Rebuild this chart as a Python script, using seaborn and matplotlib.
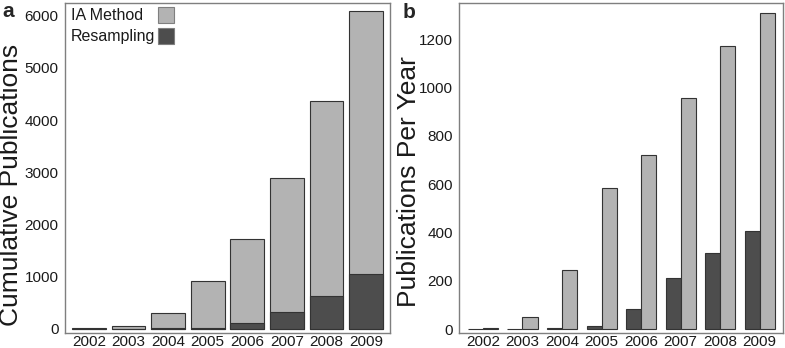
import pandas as pd
import matplotlib
matplotlib.use("Agg")
import matplotlib.pyplot as plt
import seaborn as sns
from matplotlib.patches import Rectangle

years = ["2002", "2003", "2004", "2005", "2006", "2007", "2008", "2009"]

# panel a: cumulative publications (stacked: total height and resampling part)
cum_total = [10, 60, 310, 910, 1715, 2885, 4365, 6080]
cum_resampling = [3, 5, 10, 25, 110, 320, 635, 1045]

# panel b: publications per year
year_ia = [5, 50, 245, 585, 720, 958, 1170, 1310]
year_resampling = [3, 2, 5, 15, 85, 212, 315, 405]

light = "#b3b3b3"
dark = "#4d4d4d"
edge = "#333333"
spine = "#7f7f7f"

sns.set_style("white")
plt.rcParams["font.family"] = ["Liberation Sans", "DejaVu Sans"]

fig = plt.figure(figsize=(7.85, 3.48), dpi=100)
ax1 = fig.add_axes([0.0828, 0.044, 0.414, 0.947])
ax2 = fig.add_axes([0.585, 0.044, 0.413, 0.947])

df_a = pd.DataFrame({"Year": years, "Total": cum_total, "Resampling": cum_resampling})
sns.barplot(data=df_a, x="Year", y="Total", color=light, edgecolor=edge,
            linewidth=0.8, width=0.85, saturation=1, ax=ax1)
sns.barplot(data=df_a, x="Year", y="Resampling", color=dark, edgecolor=edge,
            linewidth=0.8, width=0.85, saturation=1, ax=ax1)
ax1.set_ylim(-71, 6239)
ax1.set_xlim(-0.6, 7.6)
ax1.set_yticks(range(0, 7000, 1000))

df_b = pd.DataFrame({
    "Year": years * 2,
    "Count": year_resampling + year_ia,
    "Method": ["Resampling"] * 8 + ["IA Method"] * 8,
})
sns.barplot(data=df_b, x="Year", y="Count", hue="Method",
            hue_order=["Resampling", "IA Method"], palette=[dark, light],
            edgecolor=edge, linewidth=0.8, width=0.76, saturation=1,
            legend=False, ax=ax2)
ax2.set_ylim(-14, 1349)
ax2.set_xlim(-0.6, 7.6)
ax2.set_yticks(range(0, 1400, 200))

for ax in (ax1, ax2):
    ax.set_xlabel("")
    ax.set_ylabel("")
    for s in ax.spines.values():
        s.set_visible(True)
        s.set_color(spine)
        s.set_linewidth(1.0)
    ax.tick_params(axis="y", length=4, width=0.8, color=spine,
                   labelsize=11, pad=0.5, labelcolor="#1a1a1a")
    ax.tick_params(axis="x", length=2, width=0.8, color=spine,
                   labelsize=11, pad=0, labelcolor="#1a1a1a")

# axis titles placed like the reference (centred a bit below the panel middle)
fig.text(0.0145, 0.468, "Cumulative Publications", fontsize=19, rotation=90,
         ha="center", va="center", color="#1a1a1a")
fig.text(0.521, 0.478, "Publications Per Year", fontsize=19, rotation=90,
         ha="center", va="center", color="#1a1a1a")

# legend: left-aligned labels with swatches to the right
legend_items = [("IA Method", light, 0.962, 0.939), ("Resampling", dark, 0.899, 0.876)]
for label, col, ty, py in legend_items:
    ax1.text(0.017, ty, label, transform=ax1.transAxes, fontsize=11.5,
             ha="left", va="center", color="#1a1a1a")
    ax1.add_patch(Rectangle((0.286, py), 0.049, 0.049, transform=ax1.transAxes,
                            facecolor=col, edgecolor=spine, linewidth=0.8))

fig.text(0.003, 0.995, "a", fontsize=15, fontweight="bold", va="top")
fig.text(0.513, 0.99, "b", fontsize=15, fontweight="bold", va="top")

fig.savefig("out.png", dpi=100)
